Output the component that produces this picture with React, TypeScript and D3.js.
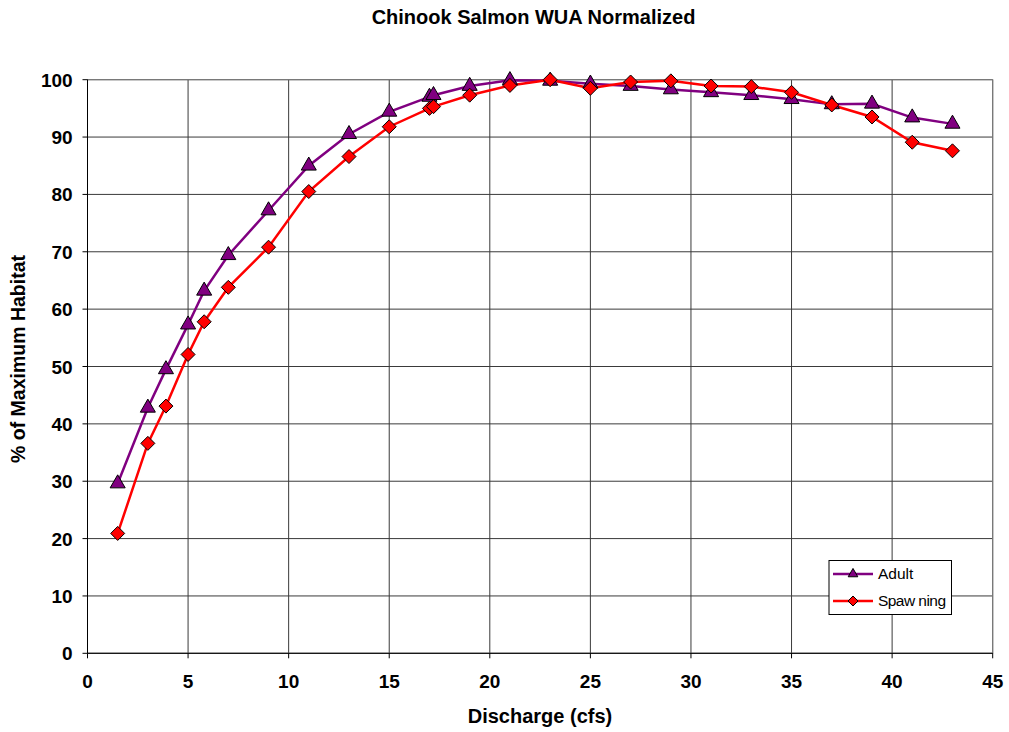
import React from "react";
import * as d3 from "d3";

const discharge = [1.5, 3, 3.9, 5, 5.8, 7, 9, 11, 13, 15, 17, 17.2, 19, 21, 23, 25, 27, 29, 31, 33, 35, 37, 39, 41, 43];
const adult = [29.6, 42.8, 49.5, 57.3, 63.2, 69.4, 77.2, 85.0, 90.5, 94.4, 97.0, 97.3, 98.9, 99.9, 99.8, 99.3, 98.9, 98.3, 97.8, 97.3, 96.6, 95.7, 95.8, 93.4, 92.3];
const spawning = [20.9, 36.6, 43.1, 52.1, 57.8, 63.8, 70.8, 80.5, 86.6, 91.8, 95.0, 95.3, 97.3, 99.0, 100, 98.5, 99.6, 99.8, 98.9, 98.8, 97.8, 95.6, 93.5, 89.1, 87.6];
const xTicks = [0, 5, 10, 15, 20, 25, 30, 35, 40, 45];
const yTicks = [0, 10, 20, 30, 40, 50, 60, 70, 80, 90, 100];

const W = 1009;
const H = 732;
const L = 87.5, R = 992.7, T = 79.7, B = 653.3;

export default function App() {
  const x = d3.scaleLinear().domain([0, 45]).range([L, R]);
  const y = d3.scaleLinear().domain([0, 100]).range([B, T]);
  const line = d3.line<[number, number]>().x((d) => x(d[0])).y((d) => y(d[1]));
  const adultPts: [number, number][] = discharge.map((d, i) => [d, adult[i]]);
  const spawnPts: [number, number][] = discharge.map((d, i) => [d, spawning[i]]);
  const tri = d3.symbol().type(d3.symbolTriangle).size(98)()!;
  const dia = (s: number) => `M0,${-s}L${s},0L0,${s}L${-s},0Z`;
  const font = "'Liberation Sans', Arial, sans-serif";

  return (
    <svg width={W} height={H} style={{ position: "absolute", left: 0, top: 0, background: "#fff" }} fontFamily={font}>
      <text x={533.5} y={24} textAnchor="middle" fontSize={20} fontWeight="bold">Chinook Salmon WUA Normalized</text>
      {/* grid */}
      {yTicks.map((t) => (
        <line key={"gy" + t} x1={L} x2={R} y1={y(t)} y2={y(t)} stroke="#3a3a3a" strokeWidth={1} />
      ))}
      {xTicks.map((t) => (
        <line key={"gx" + t} x1={x(t)} x2={x(t)} y1={T} y2={B} stroke="#3a3a3a" strokeWidth={1} />
      ))}
      <rect x={L} y={T} width={R - L} height={B - T} fill="none" stroke="#808080" strokeWidth={1} />
      {/* axes */}
      <line x1={L} x2={L} y1={T} y2={B} stroke="#000" strokeWidth={1} />
      <line x1={L} x2={R} y1={B} y2={B} stroke="#000" strokeWidth={1} />
      {yTicks.map((t) => (
        <g key={"ty" + t}>
          <line x1={L - 5} x2={L} y1={y(t)} y2={y(t)} stroke="#000" />
          <text x={72.7} y={y(t) + 7} textAnchor="end" fontSize={19} fontWeight="bold">{t}</text>
        </g>
      ))}
      {xTicks.map((t) => (
        <g key={"tx" + t}>
          <line x1={x(t)} x2={x(t)} y1={B} y2={B + 5} stroke="#000" />
          <text x={x(t)} y={688.3} textAnchor="middle" fontSize={19} fontWeight="bold">{t}</text>
        </g>
      ))}
      <text x={540} y={723.3} textAnchor="middle" fontSize={20} fontWeight="bold">Discharge (cfs)</text>
      <text transform={`translate(25,359) rotate(-90)`} textAnchor="middle" fontSize={19.5} fontWeight="bold">% of Maximum Habitat</text>
      {/* series */}
      <path d={line(adultPts)!} fill="none" stroke="#800080" strokeWidth={2.5} />
      <path d={line(spawnPts)!} fill="none" stroke="#ff0000" strokeWidth={2.5} />
      {adultPts.map((p, i) => (
        <path key={"a" + i} d={tri} transform={`translate(${x(p[0])},${y(p[1])})`} fill="#800080" stroke="#000" strokeWidth={1} />
      ))}
      {spawnPts.map((p, i) => (
        <path key={"s" + i} d={dia(7)} transform={`translate(${x(p[0])},${y(p[1])})`} fill="#ff0000" stroke="#000" strokeWidth={1} />
      ))}
      {/* legend */}
      <rect x={829} y={560.5} width={122.5} height={54} fill="#fff" stroke="#000" strokeWidth={1} />
      <line x1={833} x2={873} y1={574} y2={574} stroke="#800080" strokeWidth={2.5} />
      <path d={d3.symbol().type(d3.symbolTriangle).size(40)()!} transform="translate(853,574)" fill="#800080" stroke="#000" />
      <text x={878} y={579.3} fontSize={15.5}>Adult</text>
      <line x1={833} x2={873} y1={601} y2={601} stroke="#ff0000" strokeWidth={2.5} />
      <path d={dia(5)} transform="translate(853,601)" fill="#ff0000" stroke="#000" />
      <text x={878} y={605.5} fontSize={15.5} textLength={68}>Spaw ning</text>
    </svg>
  );
}
